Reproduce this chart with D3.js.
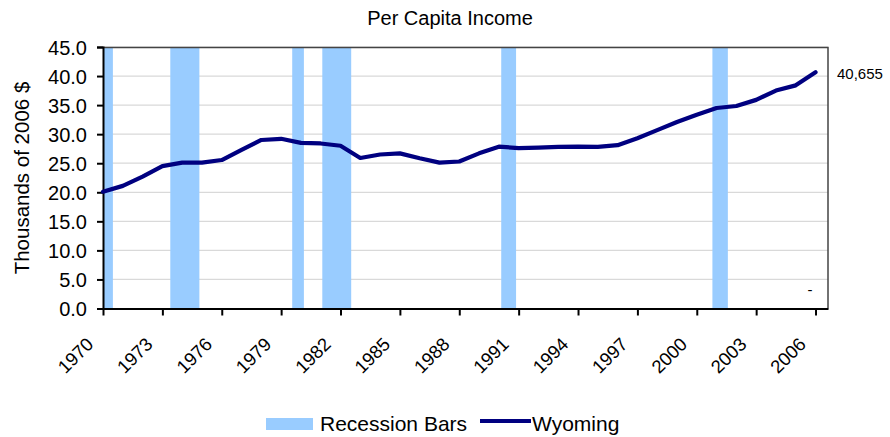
<!DOCTYPE html>
<html>
<head>
<meta charset="utf-8">
<script src="https://cdn.jsdelivr.net/npm/d3@7"></script>
<style>
  body { margin: 0; background: #fff; }
  text { font-family: "Liberation Sans", Arial, sans-serif; fill: #000; }
</style>
</head>
<body>
<div id="chart"></div>
<script>
// ---- Data ----
const years = d3.range(1970, 2007);
const wyoming = [
    20.1, 21.1, 22.7, 24.5, 25.1, 25.1, 25.55, 27.3, 29.0, 29.2,
    28.5, 28.4, 28.0, 25.9, 26.5, 26.7, 25.85, 25.1, 25.3, 26.7,
    27.85, 27.6, 27.7, 27.8, 27.85, 27.8, 28.1, 29.3, 30.7, 32.1,
    33.35, 34.5, 34.85, 35.9, 37.5, 38.4, 40.655
];
// recession periods as [start, end] in fractional years
const recessions = [
    [1970.0, 1970.5],
    [1973.4, 1974.87],
    [1979.56, 1980.15],
    [1981.08, 1982.54],
    [1990.12, 1990.87],
    [2000.79, 2001.57]
];
const yTicks = d3.range(0, 46, 5);
const xTickYears = d3.range(1970, 2007, 3);

const width = 890, height = 437;
const margin = { top: 47, right: 62, bottom: 128.5, left: 103 };
const innerWidth = width - margin.left - margin.right;
const innerHeight = height - margin.top - margin.bottom;

const svg = d3.select("#chart").append("svg")
    .attr("width", width)
    .attr("height", height);

const g = svg.append("g")
    .attr("transform", `translate(${margin.left}, ${margin.top})`);

// ---- Scales ----
const x = d3.scaleLinear()
    .domain([1970, 2006.63])
    .range([0, innerWidth]);

const y = d3.scaleLinear()
    .domain([0, 45])
    .range([innerHeight, 0]);

// gridlines
g.append("g")
    .selectAll("line")
    .data(yTicks.slice(1))
    .enter()
    .append("line")
    .attr("x1", 0)
    .attr("x2", innerWidth)
    .attr("y1", d => y(d))
    .attr("y2", d => y(d))
    .attr("stroke", "#d9d9d9")
    .attr("stroke-width", 1.2);

// recession bars
g.selectAll(".recession")
    .data(recessions)
    .enter()
    .append("rect")
    .attr("x", d => x(d[0]))
    .attr("width", d => x(d[1]) - x(d[0]))
    .attr("y", 0)
    .attr("height", innerHeight)
    .attr("fill", "#99ccff");

// top and right border
g.append("path")
    .attr("d", `M0,0.5H${innerWidth}V${innerHeight}`)
    .attr("fill", "none")
    .attr("stroke", "#444")
    .attr("stroke-width", 1.5);

// ---- Axes ----
const yAxis = g.append("g")
    .call(d3.axisLeft(y)
        .tickValues(yTicks)
        .tickSize(6)
        .tickPadding(10)
        .tickFormat(d3.format(".1f")));
yAxis.select(".domain").attr("stroke", "#000").attr("stroke-width", 2);
yAxis.selectAll(".tick line").attr("stroke", "#000").attr("stroke-width", 2);
yAxis.selectAll("text")
    .style("font-size", "20px")
    .style("font-family", "Liberation Sans, Arial, sans-serif")
    .attr("dy", "0.36em");

const xAxis = g.append("g")
    .attr("transform", `translate(0, ${innerHeight})`)
    .call(d3.axisBottom(x)
        .tickValues(xTickYears)
        .tickSize(7)
        .tickSizeOuter(0)
        .tickFormat(d3.format("d")));
xAxis.select(".domain").attr("stroke", "#000").attr("stroke-width", 2);
xAxis.selectAll(".tick line").attr("stroke", "#000").attr("stroke-width", 2);
xAxis.selectAll("text")
    .style("font-size", "18.5px")
    .style("font-family", "Liberation Sans, Arial, sans-serif")
    .attr("text-anchor", "end")
    .attr("x", 0)
    .attr("y", 0)
    .attr("dy", 0)
    .attr("transform", "translate(-9, 37) rotate(-45)");

// ---- Line ----
const line = d3.line()
    .x((d, i) => x(years[i]))
    .y(d => y(d));

g.append("path")
    .datum(wyoming)
    .attr("d", line)
    .attr("fill", "none")
    .attr("stroke", "#000080")
    .attr("stroke-width", 4.2)
    .attr("stroke-linejoin", "round")
    .attr("stroke-linecap", "round");

// end value label
g.append("text")
    .attr("x", innerWidth + 9)
    .attr("y", y(wyoming[wyoming.length - 1]) + 7)
    .style("font-size", "15px")
    .text(d3.format(",")(Math.round(wyoming[wyoming.length - 1] * 1000)));

g.append("text")
    .attr("x", x(2005.6))
    .attr("y", y(2.4))
    .style("font-size", "15px")
    .text("-");

// ---- Titles ----
svg.append("text")
    .attr("x", 450)
    .attr("y", 25)
    .attr("text-anchor", "middle")
    .style("font-size", "20px")
    .text("Per Capita Income");

svg.append("text")
    .attr("transform", "rotate(-90)")
    .attr("x", -178)
    .attr("y", 29)
    .attr("text-anchor", "middle")
    .style("font-size", "20.5px")
    .text("Thousands of 2006 $");

// ---- Legend ----
const legend = svg.append("g").attr("transform", "translate(266, 424)");
legend.append("rect")
    .attr("x", 0)
    .attr("y", -6)
    .attr("width", 47)
    .attr("height", 12)
    .attr("fill", "#99ccff");
legend.append("text")
    .attr("x", 54)
    .attr("y", 7)
    .style("font-size", "21px")
    .text("Recession Bars");
legend.append("line")
    .attr("x1", 214)
    .attr("x2", 265)
    .attr("y1", -3)
    .attr("y2", -3)
    .attr("stroke", "#000080")
    .attr("stroke-width", 4);
legend.append("text")
    .attr("x", 266)
    .attr("y", 7)
    .style("font-size", "21px")
    .text("Wyoming");
</script>
</body>
</html>
